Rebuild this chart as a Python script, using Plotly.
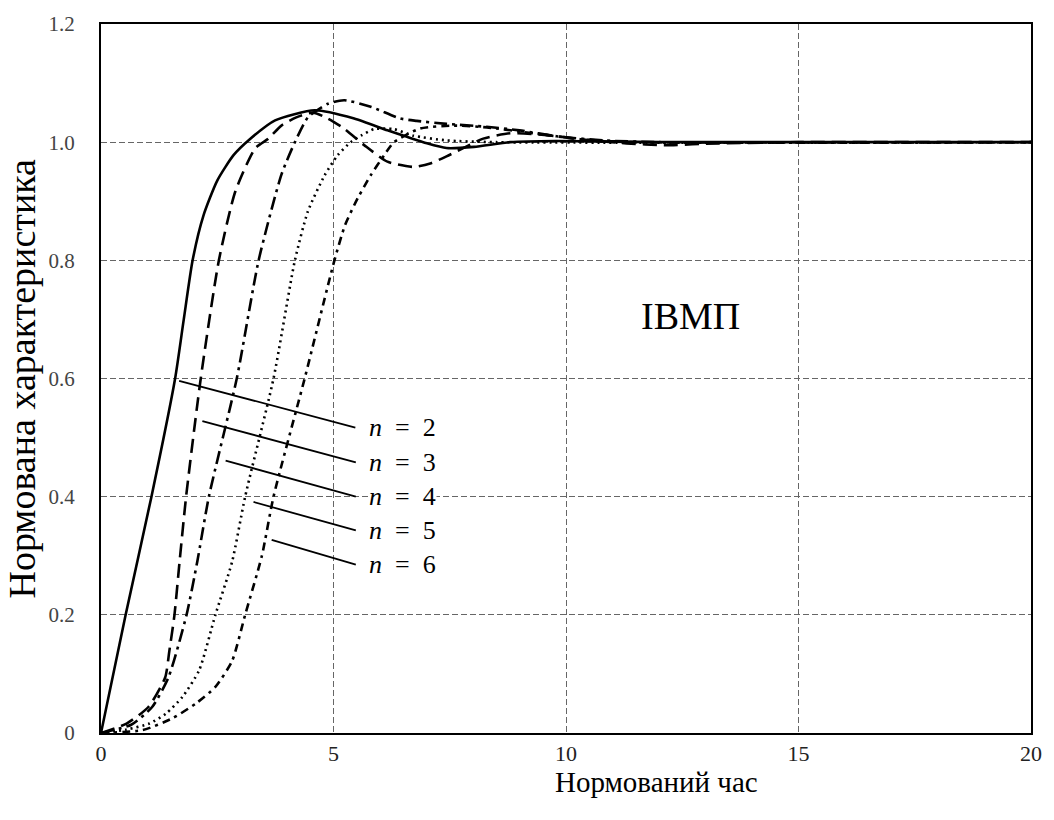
import plotly.graph_objects as go

# ---- data (normalized time, normalized response) ----
n2_t = [0, 0.53, 1.085, 1.594, 1.78, 1.97, 2.2, 2.5, 2.85, 3.2, 3.744, 4.595, 5.445, 6.16, 6.58, 7.01, 7.43, 8.02, 8.8, 9.78, 12, 20]
n2_y = [0, 0.2, 0.4, 0.6, 0.70, 0.80, 0.875, 0.935, 0.978, 1.005, 1.037, 1.054, 1.04, 1.02, 1.009, 0.998, 0.99, 0.992, 1.0, 1.002, 1.0, 1.0]

n3_t = [0, 0.55, 1.02, 1.38, 1.47, 1.58, 1.69, 1.83, 2.145, 2.535, 2.89, 3.32, 3.60, 3.88, 4.2, 4.56, 4.88, 5.23, 5.66, 6.16, 6.72, 7.08, 7.43, 7.79, 8.22, 8.8, 9.6, 10.3, 11.3, 12.1, 13.3, 15, 20]
n3_y = [0, 0.016, 0.044, 0.094, 0.139, 0.2, 0.29, 0.4, 0.6, 0.80, 0.917, 0.99, 1.006, 1.028, 1.042, 1.05, 1.04, 1.023, 0.995, 0.967, 0.958, 0.964, 0.976, 0.99, 1.006, 1.015, 1.012, 1.005, 0.998, 0.995, 0.998, 1.0, 1.0]

n4_t = [0, 0.65, 1.10, 1.45, 1.84, 2.07, 2.32, 2.92, 3.39, 3.88, 4.17, 4.45, 4.88, 5.23, 5.80, 6.44, 6.79, 7.43, 8.29, 9.0, 9.8, 10.8, 12, 20]
n4_y = [0, 0.014, 0.044, 0.094, 0.2, 0.29, 0.4, 0.6, 0.80, 0.945, 1.0, 1.042, 1.065, 1.071, 1.06, 1.04, 1.036, 1.031, 1.026, 1.02, 1.01, 1.003, 1.0, 1.0]

n5_t = [0, 0.55, 1.04, 1.40, 1.75, 2.11, 2.46, 2.82, 3.10, 3.71, 4.17, 4.45, 4.81, 5.09, 5.37, 5.59, 5.87, 6.3, 6.72, 7.43, 8.5, 20]
n5_y = [0, 0.006, 0.016, 0.033, 0.061, 0.106, 0.2, 0.29, 0.4, 0.6, 0.80, 0.883, 0.944, 0.978, 1.0, 1.011, 1.022, 1.022, 1.011, 1.003, 1.0, 1.0]

n6_t = [0, 0.90, 1.54, 2.04, 2.46, 2.82, 3.10, 3.46, 3.71, 4.38, 5.02, 5.25, 5.52, 5.80, 6.09, 6.30, 6.86, 7.58, 8.3, 9.3, 10.3, 11.5, 20]
n6_y = [0, 0.005, 0.025, 0.05, 0.078, 0.122, 0.2, 0.30, 0.4, 0.6, 0.80, 0.86, 0.905, 0.944, 0.978, 1.0, 1.023, 1.028, 1.025, 1.015, 1.005, 1.0, 1.0]

labels = ["n = 2", "n = 3", "n = 4", "n = 5", "n = 6"]
leader_x0 = [1.68, 2.18, 2.68, 3.28, 3.67]
leader_y0 = [0.596, 0.528, 0.461, 0.391, 0.327]
leader_x1 = [5.47, 5.48, 5.48, 5.48, 5.48]
leader_y1 = [0.517, 0.458, 0.400, 0.343, 0.285]
label_x = 5.75

x_ticks = [0, 5, 10, 15, 20]
x_ticktext = ["0", "5", "10", "15", "20"]
y_ticks = [0, 0.2, 0.4, 0.6, 0.8, 1.0, 1.2]
y_ticktext = ["0", "0.2", "0.4", "0.6", "0.8", "1.0", "1.2"]

x_title = "Нормований час"
y_title = "Нормована характеристика"
inner_text = "ІВМП"
inner_x, inner_y = 12.68, 0.706

series = [
    (n2_t, n2_y, "solid"),
    (n3_t, n3_y, "14px,7px"),
    (n4_t, n4_y, "13px,5px,3px,5px"),
    (n5_t, n5_y, "2px,4px"),
    (n6_t, n6_y, "8px,5px,3px,5px"),
]

SERIF = "Liberation Serif"

fig = go.Figure()
for (t, y, dash), lab in zip(series, labels):
    fig.add_trace(go.Scatter(
        x=t, y=y, mode="lines", name=lab,
        line=dict(color="black", width=2.6, dash=dash, shape="spline", smoothing=0.6),
        showlegend=False, hoverinfo="skip"))

for x0, y0, x1, y1 in zip(leader_x0, leader_y0, leader_x1, leader_y1):
    fig.add_trace(go.Scatter(
        x=[x0, x1], y=[y0, y1], mode="lines",
        line=dict(color="black", width=1.8),
        showlegend=False, hoverinfo="skip"))

annotations = []
for lab, y1 in zip(labels, leader_y1):
    num = lab.split("=")[1].strip()
    annotations.append(dict(
        x=label_x, y=y1, xref="x", yref="y", xanchor="left", yanchor="middle",
        text="<i>n</i>&nbsp;&nbsp;=&nbsp;&nbsp;" + num, showarrow=False,
        font=dict(family=SERIF, size=26, color="black"), bgcolor="white",
        borderpad=0))

annotations.append(dict(
    x=inner_x, y=inner_y, xref="x", yref="y", xanchor="center", yanchor="middle",
    text=inner_text, showarrow=False,
    font=dict(family=SERIF, size=38, color="black")))

annotations.append(dict(
    x=0.597, y=0, xref="paper", yref="paper", xanchor="center", yanchor="middle",
    yshift=-49, text=x_title, showarrow=False,
    font=dict(family=SERIF, size=29, color="black")))

annotations.append(dict(
    x=0, y=0.5, xref="paper", yref="paper", xanchor="center", yanchor="middle",
    xshift=-80, text=y_title, showarrow=False, textangle=-90,
    font=dict(family=SERIF, size=38, color="black")))

fig.update_layout(
    width=1054, height=820,
    margin=dict(l=101, r=14, t=17, b=87),
    paper_bgcolor="white", plot_bgcolor="white",
    annotations=annotations,
)

fig.update_xaxes(
    range=[0, 20], tickvals=x_ticks, ticktext=x_ticktext,
    showgrid=True, gridcolor="#666", gridwidth=1, griddash="6px,3px",
    zeroline=False, showline=True, mirror=True, linecolor="black", linewidth=2,
    ticks="", ticklabelstandoff=0,
    tickfont=dict(family=SERIF, size=22, color="#222"))

fig.update_yaxes(
    range=[0, 1.2], tickvals=y_ticks, ticktext=y_ticktext,
    showgrid=True, gridcolor="#666", gridwidth=1, griddash="6px,3px",
    zeroline=False, showline=True, mirror=True, linecolor="black", linewidth=2,
    ticks="", ticklabelstandoff=20,
    tickfont=dict(family=SERIF, size=21, color="#444"))

fig.write_html("out.html")
